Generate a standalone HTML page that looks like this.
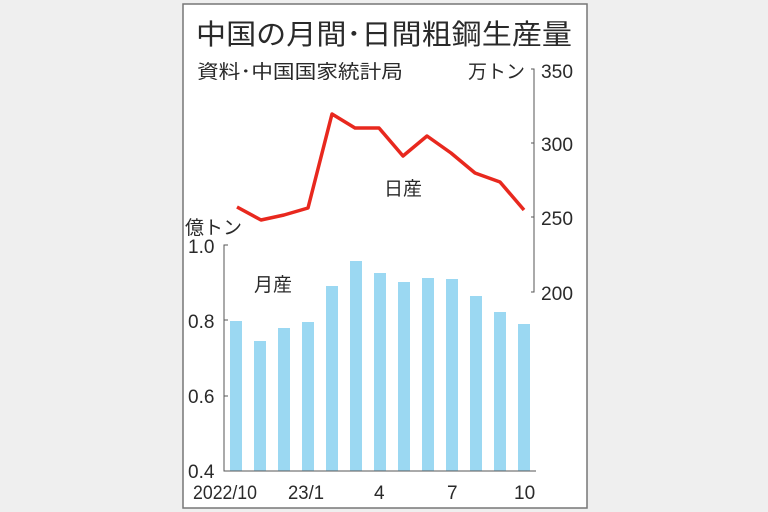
<!DOCTYPE html>
<html><head><meta charset="utf-8"><style>
body{margin:0;background:#efefef;width:768px;height:512px;overflow:hidden}
svg{position:absolute;left:0;top:0}
text{font-family:"Liberation Sans","Noto Sans CJK JP",sans-serif;fill:#2a2a2a}
</style></head><body>
<svg width="768" height="512">
<rect x="183" y="4" width="404" height="504" fill="#fff" stroke="#777" stroke-width="1.5"/>
<text x="196" y="44" font-size="28" textLength="376" lengthAdjust="spacingAndGlyphs">中国の月間･日間粗鋼生産量</text>
<text x="197" y="78" font-size="19" fill="#444" textLength="206" lengthAdjust="spacingAndGlyphs">資料･中国国家統計局</text>
<text x="468" y="78" font-size="19">万トン</text>
<text x="185" y="234" font-size="19">億トン</text>
<g fill="#9bd8f2">
<rect x="230" y="321" width="12" height="150"/>
<rect x="254" y="341" width="12" height="130"/>
<rect x="278" y="328" width="12" height="143"/>
<rect x="302" y="322" width="12" height="149"/>
<rect x="326" y="286" width="12" height="185"/>
<rect x="350" y="261" width="12" height="210"/>
<rect x="374" y="273" width="12" height="198"/>
<rect x="398" y="282" width="12" height="189"/>
<rect x="422" y="278" width="12" height="193"/>
<rect x="446" y="279" width="12" height="192"/>
<rect x="470" y="296" width="12" height="175"/>
<rect x="494" y="312" width="12" height="159"/>
<rect x="518" y="324" width="12" height="147"/>
</g>
<g stroke="#555" stroke-width="1" fill="none">
<path d="M228 245H224V471H536"/>
<path d="M224 320h4M224 396h4"/>
<path d="M531 69h3V292h-3M534 143h-3M534 217h-3"/>
</g>
<polyline fill="none" stroke="#e8281e" stroke-width="3.5" stroke-linejoin="round" points="237,207 261,220 284,215 308,208 332,114 355,128 379,128 403,156 427,136 451,153 475,173 500,182 524,210"/>
<g font-size="19">
<text x="541" y="78" textLength="32" lengthAdjust="spacingAndGlyphs">350</text>
<text x="541" y="151" textLength="32" lengthAdjust="spacingAndGlyphs">300</text>
<text x="541" y="225" textLength="32" lengthAdjust="spacingAndGlyphs">250</text>
<text x="541" y="300" textLength="32" lengthAdjust="spacingAndGlyphs">200</text>
<text x="188" y="253">1.0</text>
<text x="188" y="328">0.8</text>
<text x="188" y="403">0.6</text>
<text x="188" y="478">0.4</text>
<text x="193" y="499" textLength="64" lengthAdjust="spacingAndGlyphs">2022/10</text>
<text x="288" y="499" textLength="36" lengthAdjust="spacingAndGlyphs">23/1</text>
<text x="374" y="499">4</text>
<text x="447" y="499">7</text>
<text x="514" y="499">10</text>
<text x="384" y="195" fill="#444">日産</text>
<text x="254" y="291" fill="#444">月産</text>
</g>
</svg>
</body></html>
